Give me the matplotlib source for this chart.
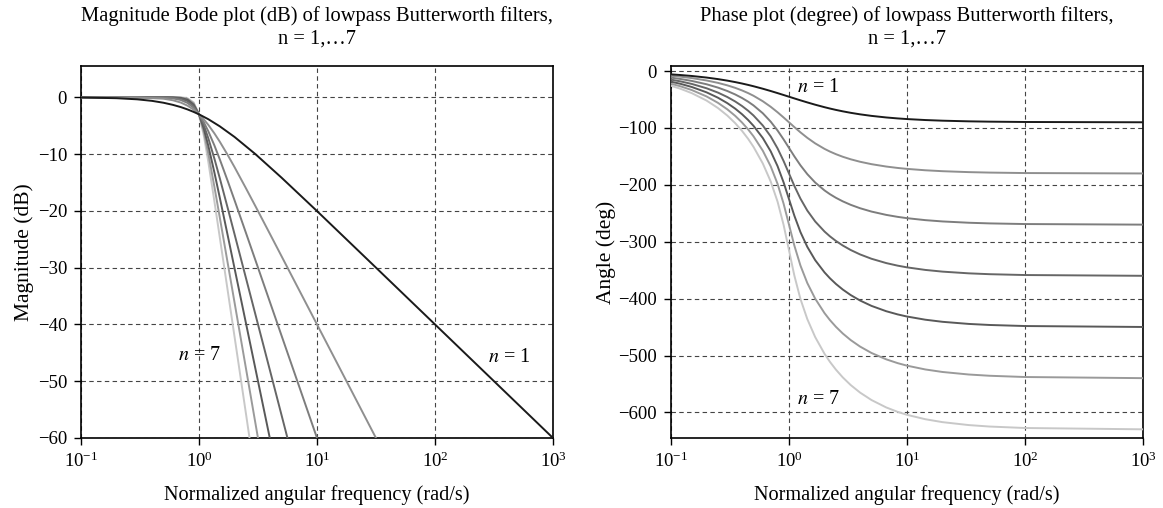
import matplotlib
matplotlib.use("Agg")
import matplotlib.pyplot as plt

# magnitude (dB) read per filter order, each curve stops where it hits -60 dB
mag_w1 = [0.1, 0.2, 0.3, 0.4, 0.5, 0.6, 0.7, 0.8, 0.9, 1.0, 1.2, 1.5, 2, 3, 5, 10, 30, 100, 300, 1000]
mag_db1 = [-0.04, -0.17, -0.37, -0.64, -0.97, -1.34, -1.73, -2.15, -2.58, -3.01, -3.87, -5.12, -6.99, -10.0, -14.15, -20.04, -29.55, -40.0, -49.54, -60.0]
mag_w2 = [0.1, 0.3, 0.5, 0.6, 0.7, 0.8, 0.9, 1.0, 1.1, 1.2, 1.35, 1.5, 1.75, 2, 2.5, 3, 4, 5, 7, 10, 20, 31.6]
mag_db2 = [0.0, -0.04, -0.26, -0.53, -0.93, -1.49, -2.19, -3.01, -3.92, -4.88, -6.36, -7.83, -10.16, -12.30, -16.03, -19.14, -24.10, -27.97, -33.81, -40.0, -52.04, -60.0]
mag_w3 = [0.1, 0.5, 0.6, 0.7, 0.8, 0.9, 1.0, 1.1, 1.2, 1.35, 1.5, 1.75, 2, 2.5, 3, 4, 5, 7, 10]
mag_db3 = [0.0, -0.07, -0.20, -0.48, -1.01, -1.85, -3.01, -4.43, -6.01, -8.48, -10.93, -14.73, -18.13, -23.89, -28.63, -36.12, -41.94, -50.70, -60.0]
mag_w4 = [0.1, 0.5, 0.6, 0.7, 0.8, 0.9, 1.0, 1.1, 1.2, 1.35, 1.5, 1.75, 2, 2.5, 3, 4, 5.62]
mag_db4 = [0.0, -0.02, -0.07, -0.24, -0.67, -1.55, -3.01, -4.97, -7.24, -10.80, -14.25, -19.49, -24.10, -31.84, -38.17, -48.16, -60.0]
mag_w5 = [0.1, 0.5, 0.6, 0.7, 0.8, 0.9, 1.0, 1.1, 1.2, 1.35, 1.5, 1.75, 2, 2.5, 3, 3.98]
mag_db5 = [0.0, 0.0, -0.03, -0.12, -0.44, -1.30, -3.01, -5.56, -8.57, -13.24, -17.68, -24.31, -30.11, -39.79, -47.71, -60.0]
mag_w6 = [0.1, 0.6, 0.7, 0.8, 0.9, 1.0, 1.1, 1.2, 1.35, 1.5, 1.75, 2, 2.5, 3.16]
mag_db6 = [0.0, -0.01, -0.06, -0.29, -1.08, -3.01, -6.17, -9.96, -15.75, -21.16, -29.17, -36.12, -47.75, -60.0]
mag_w7 = [0.1, 0.6, 0.7, 0.8, 0.9, 1.0, 1.1, 1.2, 1.35, 1.5, 1.75, 2, 2.5, 2.68]
mag_db7 = [0.0, 0.0, -0.03, -0.19, -0.90, -3.01, -6.81, -11.41, -18.31, -24.67, -34.02, -42.14, -55.72, -60.0]

# phase (deg), same frequency grid for every order
ph_w = [0.1, 0.12, 0.15, 0.2, 0.25, 0.3, 0.35, 0.4, 0.45, 0.5, 0.6, 0.7, 0.8, 0.9, 1.0, 1.1, 1.111, 1.25,
        1.429, 1.667, 2.0, 2.222, 2.5, 2.857, 3.333, 4.0, 5.0, 6.667, 8.333, 10, 14.29, 20, 33.33, 50, 100, 1000]
ph1 = [-5.71, -6.84, -8.53, -11.31, -14.04, -16.70, -19.29, -21.80, -24.23, -26.57, -30.96, -34.99, -38.66,
       -41.99, -45.0, -47.73, -48.01, -51.34, -55.01, -59.04, -63.43, -65.77, -68.20, -70.71, -73.30, -75.96,
       -78.69, -81.47, -83.16, -84.29, -86.00, -87.14, -88.28, -88.85, -89.43, -89.94]
ph2 = [-8.13, -9.77, -12.24, -16.42, -20.66, -25.00, -29.42, -33.96, -38.59, -43.31, -52.98, -62.74, -72.35,
       -81.51, -90.0, -97.69, -98.49, -107.65, -117.26, -127.02, -136.69, -141.41, -146.04, -150.58, -155.00,
       -159.34, -163.58, -167.76, -170.23, -171.87, -174.32, -175.94, -177.57, -178.38, -179.19, -179.92]
ph3 = [-11.48, -13.78, -17.25, -23.08, -28.97, -34.95, -41.04, -47.26, -53.66, -60.26, -74.11, -88.92, -104.43,
       -120.07, -135.0, -148.54, -149.93, -165.57, -181.08, -195.89, -209.74, -216.34, -222.74, -228.96, -235.05,
       -241.03, -246.92, -252.75, -256.22, -258.52, -261.98, -264.27, -266.56, -267.71, -268.85, -269.89]
ph4 = [-15.00, -18.00, -22.53, -30.12, -37.77, -45.51, -53.37, -61.38, -69.56, -77.97, -95.66, -114.86, -135.86,
       -158.06, -180.0, -199.91, -201.94, -224.14, -245.14, -264.34, -282.03, -290.44, -298.62, -306.63, -314.49,
       -322.23, -329.88, -337.47, -342.00, -345.00, -349.51, -352.51, -355.51, -357.01, -358.50, -359.85]
ph5 = [-18.56, -22.28, -27.89, -37.28, -46.74, -56.29, -65.97, -75.81, -85.85, -96.13, -117.65, -141.06, -167.06,
       -195.64, -225.0, -251.63, -254.36, -282.94, -308.94, -332.35, -353.87, -364.15, -374.19, -384.03, -393.71,
       -403.26, -412.72, -422.11, -427.72, -431.44, -437.02, -440.73, -444.44, -446.29, -448.15, -449.81]
ph6 = [-22.17, -26.62, -33.29, -44.49, -55.77, -67.16, -78.69, -90.42, -102.34, -114.53, -139.98, -167.47, -198.23,
       -233.08, -270.0, -303.58, -306.92, -341.77, -372.53, -400.02, -425.47, -437.66, -449.58, -461.31, -472.84,
       -484.23, -495.51, -506.71, -513.38, -517.83, -524.49, -528.93, -533.36, -535.57, -537.79, -539.78]
ph7 = [-25.78, -30.95, -38.73, -51.75, -64.89, -78.10, -91.50, -105.10, -118.94, -133.05, -162.43, -194.08, -229.48,
       -270.32, -315.0, -355.70, -359.68, -400.52, -435.92, -467.57, -496.95, -511.06, -524.90, -538.50, -551.90,
       -565.11, -578.25, -591.27, -599.05, -604.22, -611.98, -617.12, -622.27, -624.85, -627.42, -629.74]

mag_w = [mag_w1, mag_w2, mag_w3, mag_w4, mag_w5, mag_w6, mag_w7]
mag_db = [mag_db1, mag_db2, mag_db3, mag_db4, mag_db5, mag_db6, mag_db7]
phases = [ph1, ph2, ph3, ph4, ph5, ph6, ph7]
colors = ["#1a1a1a", "#8f8f8f", "#7d7d7d", "#666666", "#595959", "#9a9a9a", "#c8c8c8"]

plt.rcParams["font.family"] = ["Liberation Serif", "DejaVu Serif"]
plt.rcParams["mathtext.fontset"] = "stix"

fig = plt.figure(figsize=(11.63, 5.08), dpi=100)
ax1 = fig.add_axes([81 / 1163, 1 - 438 / 508, 472 / 1163, 372 / 508])
ax2 = fig.add_axes([671 / 1163, 1 - 438 / 508, 472 / 1163, 372 / 508])

for i in range(7):
    ax1.plot(mag_w[i], mag_db[i], color=colors[i], lw=1.4, zorder=3 + (7 - i))
    ax2.plot(ph_w, phases[i], color=colors[i], lw=1.4, zorder=3 + (7 - i))

for ax in (ax1, ax2):
    ax.set_xscale("log")
    ax.set_xlim(0.1, 1000)
    ax.set_xticks([0.1, 1, 10, 100, 1000])
    ax.minorticks_off()
    ax.grid(True, color="#444444", ls=(0, (4, 3)), lw=0.8)
    ax.tick_params(direction="out", length=5, width=1, colors="black", labelsize=13.5, pad=5)
    for s in ax.spines.values():
        s.set_linewidth(1.2)
    ax.set_xlabel("Normalized angular frequency (rad/s)", fontsize=14.6, labelpad=10)

ax1.set_ylim(-60, 5.5)
ax1.set_yticks([0, -10, -20, -30, -40, -50, -60])
ax1.set_ylabel("Magnitude (dB)", fontsize=15.5, labelpad=3)
ax1.set_title("Magnitude Bode plot (dB) of lowpass Butterworth filters,\nn = 1,\u20267",
              pad=16, fontsize=14.8, linespacing=1.25)
ax1.text(1.0, -45.5, "$n$ = 7", ha="center", va="center", fontsize=14.5)
ax1.text(424, -45.8, "$n$ = 1", ha="center", va="center", fontsize=14.5)

ax2.set_ylim(-645, 9)
ax2.set_yticks([0, -100, -200, -300, -400, -500, -600])
ax2.set_ylabel("Angle (deg)", fontsize=15.5, labelpad=2)
ax2.set_title("Phase plot (degree) of lowpass Butterworth filters,\nn = 1,\u20267",
              pad=16, fontsize=14.8, linespacing=1.25)
ax2.text(1.17, -28, "$n$ = 1", ha="left", va="center", fontsize=14.5)
ax2.text(1.17, -577, "$n$ = 7", ha="left", va="center", fontsize=14.5)

fig.savefig("out.png", dpi=100)
